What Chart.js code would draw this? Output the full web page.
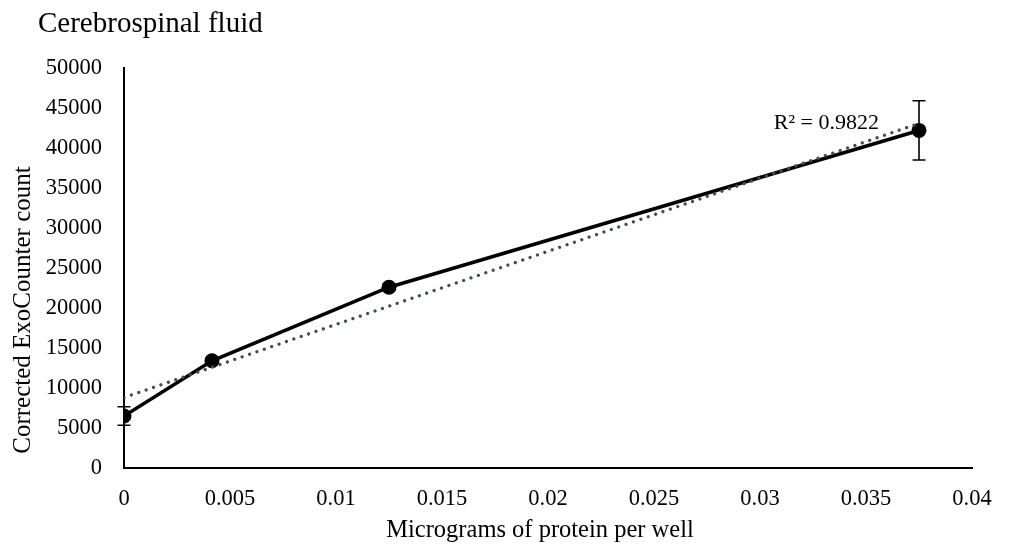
<!DOCTYPE html>
<html>
<head>
<meta charset="utf-8">
<script src="https://cdn.jsdelivr.net/npm/chart.js@4.4.1/dist/chart.umd.min.js"></script>
<style>
  html, body { margin: 0; padding: 0; background: #fff; }
  #wrap { width: 1011px; height: 557px; position: relative; }
</style>
</head>
<body>
<div id="wrap"><canvas id="c"></canvas></div>
<script>
// Protein per well (µg) and corrected ExoCounter counts
const proteinUg = [0, 0.00415, 0.0125, 0.0375];
const counts = [6500, 13400, 22600, 42200];
const countErr = [1150, 300, 400, 3700];

const xTicks = [0, 0.005, 0.01, 0.015, 0.02, 0.025, 0.03, 0.035, 0.04];
const xTickLabels = ['0', '0.005', '0.01', '0.015', '0.02', '0.025', '0.03', '0.035', '0.04'];
const yTicks = [0, 5000, 10000, 15000, 20000, 25000, 30000, 35000, 40000, 45000, 50000];
const yTickLabels = ['0', '5000', '10000', '15000', '20000', '25000', '30000', '35000', '40000', '45000', '50000'];

const chartTitle = 'Cerebrospinal fluid';
const xTitle = 'Micrograms of protein per well';
const yTitle = 'Corrected ExoCounter count';
const r2Label = 'R² = 0.9822';

const SERIF = '"Liberation Serif", "Times New Roman", serif';

// Ordinary least-squares linear trendline through the measured points
function linearFit(xs, ys) {
  const n = xs.length;
  const mx = xs.reduce((a, b) => a + b, 0) / n;
  const my = ys.reduce((a, b) => a + b, 0) / n;
  let sxy = 0, sxx = 0;
  for (let i = 0; i < n; i++) {
    sxy += (xs[i] - mx) * (ys[i] - my);
    sxx += (xs[i] - mx) * (xs[i] - mx);
  }
  const slope = sxy / sxx;
  return { slope, intercept: my - slope * mx };
}
const fit = linearFit(proteinUg, counts);
const trendX = [proteinUg[0], proteinUg[proteinUg.length - 1]];
const trendPoints = trendX.map(x => ({ x, y: fit.intercept + fit.slope * x }));

const mainPoints = proteinUg.map((x, i) => ({ x, y: counts[i] }));

// Vertical error bars with caps, chart/axis titles and R² annotation
const extras = {
  id: 'extras',
  afterDatasetsDraw(chart) {
    const { ctx, scales: { x, y } } = chart;
    ctx.save();
    ctx.strokeStyle = '#000';
    ctx.lineWidth = 1.6;
    proteinUg.forEach((v, i) => {
      const px = x.getPixelForValue(v);
      const top = y.getPixelForValue(counts[i] + countErr[i]);
      const bot = y.getPixelForValue(counts[i] - countErr[i]);
      ctx.beginPath();
      ctx.moveTo(px, top); ctx.lineTo(px, bot);
      ctx.moveTo(px - 6.5, top); ctx.lineTo(px + 6.5, top);
      ctx.moveTo(px - 6.5, bot); ctx.lineTo(px + 6.5, bot);
      ctx.stroke();
    });
    // R² label sits just left of the trendline's end
    const last = trendPoints[trendPoints.length - 1];
    ctx.fillStyle = '#000';
    ctx.font = '22px ' + SERIF;
    ctx.textAlign = 'right';
    ctx.textBaseline = 'alphabetic';
    ctx.fillText(r2Label, x.getPixelForValue(last.x) - 40, y.getPixelForValue(last.y) + 6);
    ctx.restore();
  },
  afterDraw(chart) {
    const { ctx } = chart;
    ctx.save();
    ctx.fillStyle = '#000';
    ctx.font = '29px ' + SERIF;
    ctx.textAlign = 'left';
    ctx.textBaseline = 'alphabetic';
    ctx.fillText(chartTitle, 38, 32);

    ctx.font = '24.5px ' + SERIF;
    ctx.textAlign = 'center';
    ctx.textBaseline = 'middle';
    ctx.fillText(xTitle, 540, 531);

    ctx.font = '25px ' + SERIF;
    ctx.translate(23, 310);
    ctx.rotate(-Math.PI / 2);
    ctx.fillText(yTitle, 0, 0);
    ctx.restore();
  }
};

new Chart(document.getElementById('c'), {
  type: 'scatter',
  data: {
    datasets: [
      {
        label: 'Linear trend',
        data: trendPoints,
        showLine: true,
        borderColor: '#434C5C',
        borderWidth: 3.3,
        borderDash: [0.01, 7.8],
        borderCapStyle: 'round',
        pointRadius: 0,
        order: 0
      },
      {
        label: 'CSF',
        data: mainPoints,
        showLine: true,
        borderColor: '#000',
        borderWidth: 3.6,
        pointRadius: 7.5,
        pointBackgroundColor: '#000',
        pointBorderColor: '#000',
        pointBorderWidth: 0,
        order: 1
      }
    ]
  },
  options: {
    responsive: true,
    maintainAspectRatio: false,
    devicePixelRatio: 1,
    animation: false,
    layout: { padding: { top: 68, right: 39, left: 0, bottom: 0 } },
    plugins: {
      legend: { display: false },
      tooltip: { enabled: false },
      title: { display: false }
    },
    scales: {
      x: {
        type: 'linear',
        min: 0,
        max: 0.04,
        afterBuildTicks(s) { s.ticks = xTicks.map(v => ({ value: v })); },
        afterFit(s) { s.height = 557 - 468; },
        grid: { display: false },
        border: { display: true, color: '#000', width: 2 },
        ticks: {
          padding: 10,
          color: '#000',
          font: { family: SERIF, size: 22.5 },
          maxRotation: 0,
          callback: (v, i) => xTickLabels[i]
        },
        title: { display: false }
      },
      y: {
        type: 'linear',
        min: 0,
        max: 50000,
        afterBuildTicks(s) { s.ticks = yTicks.map(v => ({ value: v })); },
        afterFit(s) { s.width = 124; },
        grid: { display: false },
        border: { display: true, color: '#000', width: 2 },
        ticks: {
          padding: 14,
          color: '#000',
          font: { family: SERIF, size: 22.5 },
          callback: (v, i) => yTickLabels[i]
        },
        title: { display: false }
      }
    }
  },
  plugins: [extras]
});
</script>
</body>
</html>
